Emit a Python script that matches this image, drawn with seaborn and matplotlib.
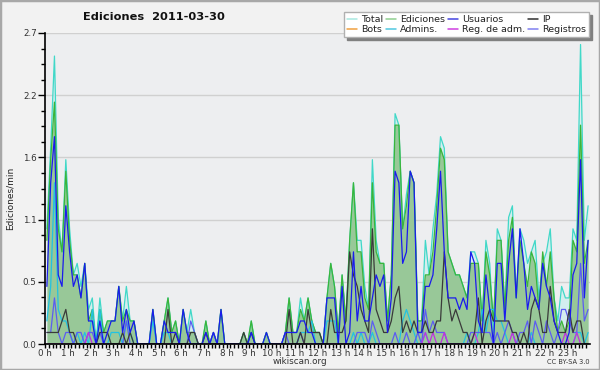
import numpy as np
import pandas as pd
import matplotlib
matplotlib.use('Agg')
import matplotlib.pyplot as plt
import seaborn as sns
from matplotlib.lines import Line2D
from matplotlib.patches import Rectangle

# ediciones por intervalo de 10 minutos (una fila = una hora)
total = [10, 17, 25, 11, 8, 16,  10, 6, 7, 5, 7, 3,  4, 0, 4, 1, 2, 2,  2, 5, 2, 5, 2, 2,
         0, 0, 0, 0, 3, 0,  0, 2, 4, 1, 2, 0,  3, 1, 3, 1, 0, 0,  2, 0, 1, 0, 3, 0,
         0, 0, 0, 0, 1, 0,  2, 0, 0, 0, 1, 0,  0, 0, 0, 1, 4, 1,  1, 4, 2, 4, 2, 1,
         1, 0, 4, 7, 5, 1,  6, 2, 9, 14, 9, 9,  5, 3, 16, 9, 7, 7,  2, 6, 20, 19, 10, 13,
         15, 14, 2, 2, 9, 6,  10, 13, 18, 17, 8, 7,  6, 6, 5, 4, 8, 8,  7, 2, 9, 7, 1, 10,
         9, 3, 11, 12, 4, 10,  9, 7, 8, 9, 4, 7,  8, 10, 4, 2, 5, 4,  4, 10, 9, 26, 9, 12]
ediciones = [9, 16, 21, 10, 8, 15,  9, 6, 6, 4, 7, 2,  3, 0, 3, 1, 2, 2,  2, 5, 2, 3, 2, 2,
             0, 0, 0, 0, 3, 0,  0, 2, 4, 1, 2, 0,  3, 1, 1, 1, 0, 0,  2, 0, 1, 0, 3, 0,
             0, 0, 0, 0, 1, 0,  2, 0, 0, 0, 1, 0,  0, 0, 0, 1, 4, 1,  1, 3, 2, 4, 2, 1,
             1, 0, 4, 7, 5, 1,  6, 2, 9, 14, 8, 8,  4, 3, 14, 8, 7, 7,  2, 6, 19, 19, 10, 12,
             15, 14, 2, 2, 6, 6,  8, 12, 17, 16, 8, 7,  6, 6, 5, 4, 7, 7,  7, 2, 8, 6, 2, 9,
             9, 3, 9, 11, 4, 9,  7, 5, 8, 7, 3, 8,  5, 8, 4, 1, 2, 1,  2, 9, 8, 19, 7, 9]
usuarios = [5, 14, 18, 6, 5, 12,  8, 5, 6, 4, 7, 2,  2, 0, 2, 0, 1, 2,  2, 5, 1, 3, 1, 2,
            0, 0, 0, 0, 3, 0,  0, 2, 1, 1, 1, 0,  3, 1, 0, 0, 0, 0,  1, 0, 1, 0, 3, 0,
            0, 0, 0, 0, 0, 0,  1, 0, 0, 0, 1, 0,  0, 0, 0, 1, 1, 1,  1, 2, 2, 1, 1, 0,
            0, 0, 4, 4, 4, 0,  5, 0, 1, 8, 2, 5,  2, 2, 4, 6, 5, 6,  1, 4, 15, 14, 7, 8,
            15, 14, 1, 1, 5, 5,  6, 10, 15, 8, 4, 4,  4, 3, 4, 3, 8, 7,  2, 1, 6, 3, 0, 7,
            7, 2, 7, 10, 4, 10,  7, 3, 5, 4, 3, 7,  5, 4, 2, 1, 0, 0,  1, 6, 7, 16, 4, 9]
ip = [1, 1, 1, 1, 2, 3,  1, 1, 0, 0, 0, 0,  0, 0, 1, 1, 1, 0,  0, 0, 1, 0, 1, 0,
      0, 0, 0, 0, 0, 0,  0, 0, 3, 0, 1, 0,  0, 0, 1, 1, 0, 0,  1, 0, 0, 0, 0, 0,
      0, 0, 0, 0, 1, 0,  1, 0, 0, 0, 0, 0,  0, 0, 0, 0, 3, 0,  0, 1, 0, 3, 1, 1,
      1, 0, 0, 3, 1, 1,  1, 2, 8, 6, 5, 3,  2, 1, 10, 3, 2, 1,  1, 2, 4, 5, 1, 2,
      1, 2, 1, 1, 2, 1,  1, 2, 2, 8, 4, 2,  3, 2, 1, 1, 0, 1,  4, 0, 2, 3, 2, 2,
      2, 2, 2, 1, 1, 0,  1, 0, 3, 4, 3, 1,  1, 5, 2, 1, 1, 1,  3, 1, 2, 2, 0, 0]
admins = [2, 5, 14, 3, 2, 2,  1, 0, 1, 0, 1, 0,  3, 0, 3, 0, 0, 1,  1, 1, 0, 2, 1, 0,
          0, 0, 0, 0, 2, 0,  0, 1, 1, 0, 0, 0,  0, 0, 0, 0, 0, 0,  0, 0, 0, 0, 0, 0,
          0, 0, 0, 0, 0, 0,  1, 0, 0, 0, 0, 0,  0, 0, 0, 0, 0, 0,  0, 1, 1, 1, 2, 0,
          0, 0, 2, 2, 2, 0,  0, 0, 0, 1, 0, 1,  0, 0, 1, 0, 0, 0,  0, 0, 0, 0, 2, 3,
          2, 1, 0, 0, 1, 0,  0, 0, 0, 0, 0, 0,  0, 0, 0, 1, 0, 0,  1, 3, 1, 3, 3, 2,
          2, 1, 0, 0, 0, 0,  0, 0, 1, 0, 0, 0,  0, 0, 0, 0, 0, 0,  0, 0, 1, 1, 0, 1]
registros = [1, 1, 4, 1, 0, 1,  1, 0, 1, 1, 0, 1,  1, 0, 1, 0, 0, 0,  0, 0, 0, 2, 0, 0,
             0, 0, 0, 0, 0, 0,  0, 0, 0, 0, 0, 0,  0, 0, 2, 1, 0, 0,  0, 0, 1, 0, 0, 0,
             0, 0, 0, 0, 0, 0,  0, 0, 0, 0, 0, 0,  0, 0, 0, 1, 0, 0,  0, 1, 0, 0, 0, 0,
             0, 0, 0, 0, 0, 0,  0, 0, 0, 0, 1, 1,  1, 0, 2, 1, 0, 0,  0, 0, 1, 0, 0, 1,
             0, 0, 1, 0, 3, 1,  2, 1, 1, 1, 0, 0,  0, 0, 0, 0, 1, 1,  1, 1, 1, 1, 0, 1,
             0, 1, 2, 1, 0, 1,  1, 2, 0, 2, 1, 0,  2, 1, 0, 1, 3, 3,  2, 1, 1, 7, 2, 3]
reg_adm = [0, 0, 0, 0, 0, 0,  0, 0, 0, 0, 0, 1,  0, 0, 0, 0, 0, 0,  0, 0, 0, 0, 0, 0,
           0, 0, 0, 0, 0, 0,  0, 0, 0, 0, 0, 0,  0, 0, 0, 0, 0, 0,  0, 0, 0, 0, 0, 0,
           0, 0, 0, 0, 0, 0,  0, 0, 0, 0, 0, 0,  0, 0, 0, 0, 0, 0,  0, 0, 0, 0, 0, 0,
           0, 0, 0, 0, 0, 0,  0, 0, 0, 0, 0, 0,  0, 0, 0, 0, 0, 0,  0, 0, 0, 0, 0, 0,
           0, 0, 0, 0, 1, 0,  1, 0, 0, 1, 0, 0,  0, 0, 0, 0, 0, 1,  0, 0, 0, 0, 0, 0,
           0, 0, 0, 1, 0, 0,  0, 0, 0, 0, 0, 0,  0, 0, 0, 0, 0, 1,  0, 0, 1, 0, 0, 0]
bots = [0] * 144

horas = [f'{h} h' for h in range(24)]

colores = {
    'Total': '#40d8c8',
    'Ediciones': '#3ab53a',
    'Usuarios': '#1a1aee',
    'IP': '#3a3a3a',
    'Bots': '#f0a040',
    'Admins.': '#22c2e2',
    'Reg. de adm.': '#c030e0',
    'Registros': '#5c5cf2',
}
colores_leyenda = {
    'Total': '#a8e8e0', 'Ediciones': '#90d090', 'Usuarios': '#4545e0', 'IP': '#303030',
    'Bots': '#f0a040', 'Admins.': '#50c8e0', 'Reg. de adm.': '#d040e0', 'Registros': '#8080f0',
}

df = pd.DataFrame({
    'Total': total, 'Ediciones': ediciones, 'Usuarios': usuarios, 'IP': ip,
    'Bots': bots, 'Admins.': admins, 'Reg. de adm.': reg_adm, 'Registros': registros,
})
df = df / 10.0  # ediciones por minuto
df['hora'] = (np.arange(len(df)) + 0.5) / 6

sns.set_theme(style='white')
plt.rcParams['font.family'] = ['DejaVu Sans']

fig = plt.figure(figsize=(6, 3.7), dpi=100, facecolor='#f2f2f2')
ax = fig.add_axes([45 / 600, 26 / 370, 545 / 600, 311 / 370])
ax.set_facecolor('#edeef0')

ax.fill_between(df['hora'], df['Total'], color='#d3eeee', lw=0, zorder=1)
ax.fill_between(df['hora'], df['Ediciones'], color='#98c898', lw=0, zorder=2)

orden = ['Total', 'Ediciones', 'Bots', 'Admins.', 'Registros', 'Reg. de adm.', 'IP', 'Usuarios']
for i, serie in enumerate(orden):
    sns.lineplot(data=df, x='hora', y=serie, color=colores[serie], lw=0.9,
                 estimator=None, ax=ax, zorder=3 + i)

ax.set_xlim(0, 24)
ax.set_ylim(0, 2.7)
ax.set_xticks(range(24))
ax.set_xticklabels(horas)
ax.set_xticks(np.arange(0, 24, 1 / 6), minor=True)
yt = np.linspace(0, 2.7, 6)
ax.set_yticks(yt)
ax.set_yticklabels([f'{v:.1f}' for v in yt])
ax.set_yticks(np.linspace(0, 2.7, 21), minor=True)
ax.yaxis.grid(True, which='major', color='#d0d0d0', lw=1)
ax.set_axisbelow(True)

ax.tick_params(axis='x', which='both', length=3, width=1, color='black', labelsize=6.3,
               labelcolor='#333333', pad=0.5, direction='out', bottom=True)
ax.tick_params(axis='y', which='major', length=5, width=1, color='black', labelsize=6.3,
               labelcolor='#333333', pad=1, left=True)
ax.tick_params(axis='y', which='minor', length=3, width=1, color='black', left=True)

for lado in ['top', 'right']:
    ax.spines[lado].set_visible(False)
for lado in ['left', 'bottom']:
    ax.spines[lado].set_color('black')
    ax.spines[lado].set_linewidth(1.2)
    ax.spines[lado].set_zorder(20)

ax.set_xlabel('')
ax.set_ylabel('')
fig.text(10 / 600, 1 - 198 / 370, 'Ediciones/min', rotation=90, ha='center', va='center',
         fontsize=6.5, color='#222222')

fig.text(154 / 600, 1 - 17 / 370, 'Ediciones  2011-03-30', ha='center', va='center',
         fontsize=8.2, fontweight='bold', color='#111111')
fig.text(300 / 600, 1 - 362 / 370, 'wikiscan.org', ha='center', va='center',
         fontsize=6.3, color='#333333')
fig.text(590 / 600, 1 - 362 / 370, 'CC BY-SA 3.0', ha='right', va='center',
         fontsize=4.8, color='#333333')

orden_leyenda = ['Total', 'Bots', 'Ediciones', 'Admins.', 'Usuarios', 'Reg. de adm.', 'IP', 'Registros']
handles = [Line2D([0], [0], color=colores_leyenda[s], lw=1.1) for s in orden_leyenda]
leg = fig.legend(handles, orden_leyenda, ncol=4, loc='upper right',
                 bbox_to_anchor=(589 / 600, 1 - 12 / 370), fontsize=6.8,
                 frameon=True, fancybox=False, shadow={'color': '#808080', 'alpha': 1},
                 edgecolor='#b0b0b0', framealpha=1, facecolor='white',
                 handlelength=1.1, handletextpad=0.4, columnspacing=0.3,
                 labelspacing=0.15, borderpad=0.3, borderaxespad=0)
leg.set_zorder(30)
for t in leg.get_texts():
    t.set_color('#222222')

fig.patches.append(Rectangle((0, 0), 1, 1, transform=fig.transFigure, fill=False,
                             edgecolor='#a8a8a8', lw=2.5, zorder=50))

fig.savefig('out.png', dpi=100, facecolor=fig.get_facecolor())
